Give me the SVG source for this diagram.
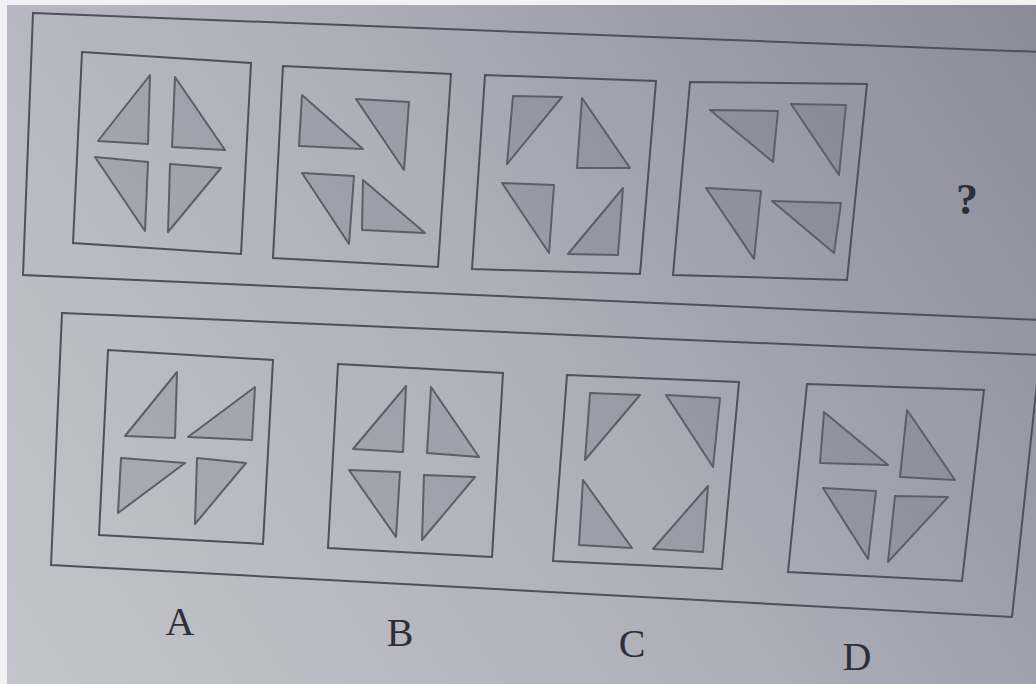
<svg xmlns="http://www.w3.org/2000/svg" width="1036" height="684" viewBox="0 0 1036 684">
<defs>
<linearGradient id="bg" x1="0" y1="684" x2="1036" y2="0" gradientUnits="userSpaceOnUse">
<stop offset="0" stop-color="#c4c4cc"/>
<stop offset="0.5" stop-color="#afafba"/>
<stop offset="1" stop-color="#8a8a99"/>
</linearGradient>
<style>
.frame{fill:none;stroke:#50505c;stroke-width:2}
.box{fill:none;stroke:#50505c;stroke-width:2}
.tri{fill:#4a4a5a;fill-opacity:0.17;stroke:#5e5e6a;stroke-width:2;stroke-linejoin:round}
.lbl{font-family:"Liberation Serif","DejaVu Serif",serif;font-size:40px;fill:#2e2e38;text-anchor:middle}
.q{font-family:"Liberation Serif","DejaVu Serif",serif;font-size:44px;font-weight:bold;fill:#2e2e38;text-anchor:middle}
</style>
</defs>
<rect x="0" y="0" width="1036" height="684" fill="#f2f2f4"/>
<rect x="7" y="5" width="1029" height="679" fill="url(#bg)"/>
<g id="frames">
<polygon class="frame" points="33,13 1040,52 1040,320 23,275"/>
<polygon class="frame" points="62,313 1040,355 1012,617 51,565"/>
</g>
<g id="q1">
<polygon class="box" points="82,52 251,63 241,254 73,243"/>
<polygon class="tri" points="150,75 98,141 148,144"/>
<polygon class="tri" points="175,77 225,150 172,147"/>
<polygon class="tri" points="95,157 148,162 145,231"/>
<polygon class="tri" points="170,164 221,168 168,232"/>
</g>
<g id="q2">
<polygon class="box" points="283,66 451,74 438,267 273,258"/>
<polygon class="tri" points="302,95 363,149 299,146"/>
<polygon class="tri" points="356,99 409,102 404,170"/>
<polygon class="tri" points="302,173 354,176 349,244"/>
<polygon class="tri" points="363,180 425,233 362,230"/>
</g>
<g id="q3">
<polygon class="box" points="485,75 656,81 640,274 472,269"/>
<polygon class="tri" points="513,96 562,97 507,164"/>
<polygon class="tri" points="582,98 630,168 577,168"/>
<polygon class="tri" points="502,183 554,185 549,253"/>
<polygon class="tri" points="623,188 618,255 568,254"/>
</g>
<g id="q4">
<polygon class="box" points="690,82 867,84 847,280 673,275"/>
<polygon class="tri" points="710,110 778,111 773,162"/>
<polygon class="tri" points="791,104 846,105 839,175"/>
<polygon class="tri" points="706,188 761,191 754,259"/>
<polygon class="tri" points="772,201 841,203 834,253"/>
</g>
<g id="question">
<text class="q" x="967" y="214">?</text>
</g>
<g id="optA">
<polygon class="box" points="108,350 273,360 263,544 99,535"/>
<polygon class="tri" points="177,372 125,436 175,438"/>
<polygon class="tri" points="255,387 188,437 252,440"/>
<polygon class="tri" points="121,458 185,463 118,513"/>
<polygon class="tri" points="197,458 246,463 195,524"/>
<text class="lbl" x="180" y="635">A</text>
</g>
<g id="optB">
<polygon class="box" points="338,364 503,373 492,557 328,548"/>
<polygon class="tri" points="406,386 353,449 403,452"/>
<polygon class="tri" points="431,387 479,457 427,453"/>
<polygon class="tri" points="349,470 400,472 396,537"/>
<polygon class="tri" points="424,475 475,477 422,540"/>
<text class="lbl" x="400" y="646">B</text>
</g>
<g id="optC">
<polygon class="box" points="567,375 739,382 722,569 553,561"/>
<polygon class="tri" points="590,393 640,395 585,460"/>
<polygon class="tri" points="666,395 720,398 713,467"/>
<polygon class="tri" points="583,480 632,548 579,545"/>
<polygon class="tri" points="708,486 703,552 653,549"/>
<text class="lbl" x="632" y="657">C</text>
</g>
<g id="optD">
<polygon class="box" points="807,384 984,390 962,581 788,572"/>
<polygon class="tri" points="824,412 888,465 820,463"/>
<polygon class="tri" points="907,410 955,480 900,477"/>
<polygon class="tri" points="823,488 876,491 868,559"/>
<polygon class="tri" points="895,496 948,497 888,562"/>
<text class="lbl" x="857" y="670">D</text>
</g>
</svg>
